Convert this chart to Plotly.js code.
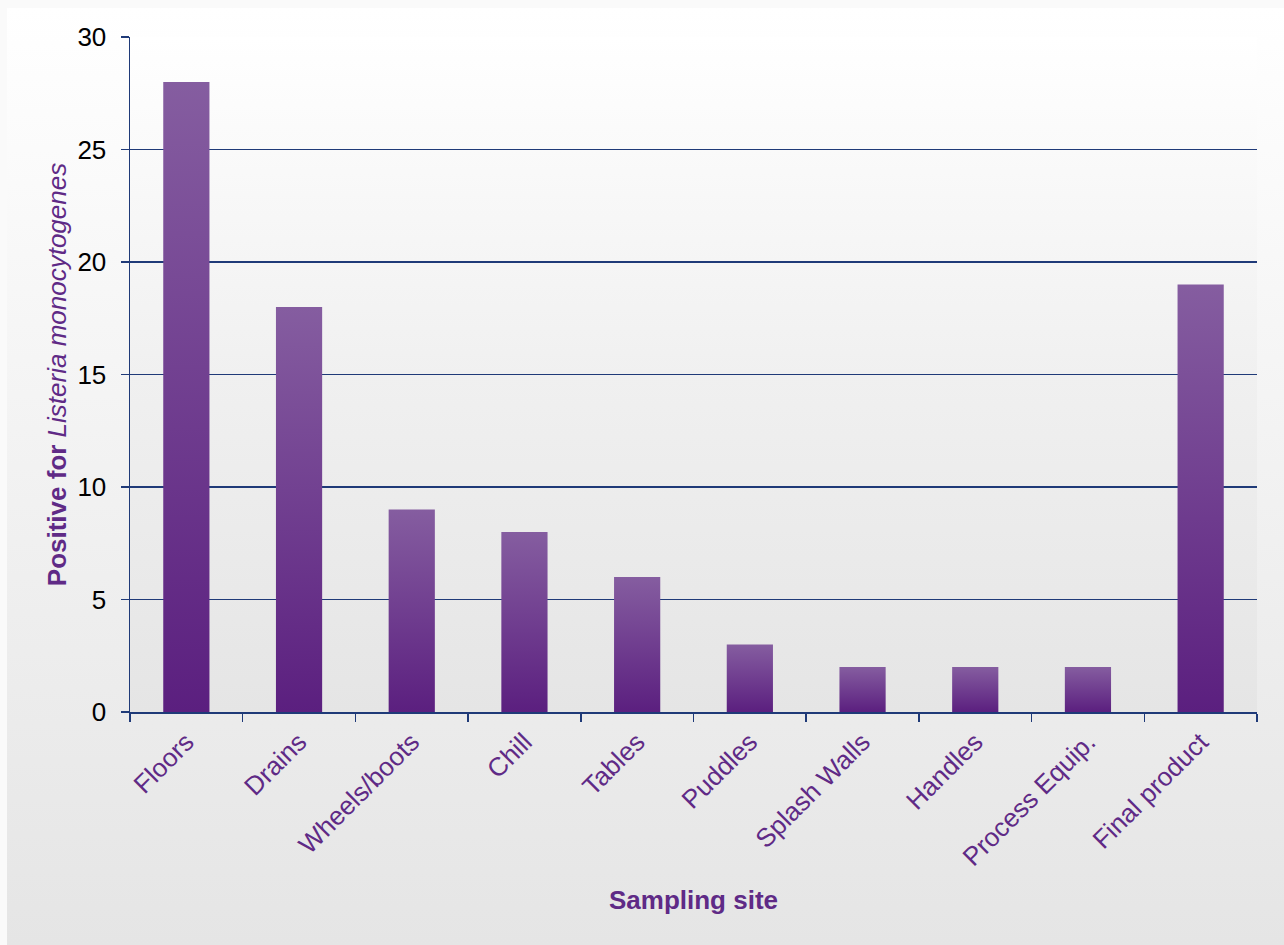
<!DOCTYPE html>
<html>
<head>
<meta charset="utf-8">
<script src="https://cdn.plot.ly/plotly-3.0.1.min.js"></script>
<style>
  html, body { margin:0; padding:0; background:#fafafa; }
  #wrap { position:relative; width:1284px; height:945px; overflow:hidden; background:#fafafa; }
  #bgOuter { position:absolute; left:7px; top:8px; width:1277px; height:937px;
             background:linear-gradient(to bottom, #ffffff 0%, #f3f3f3 45%, #e5e5e5 100%); }
  #bgPlot { position:absolute; left:130px; top:37px; width:1127px; height:675px;
            background:linear-gradient(to bottom, #ffffff 0%, #f0f0f0 50%, #e5e5e5 100%); }
  #chart { position:absolute; left:0; top:0; width:1284px; height:945px; }
</style>
</head>
<body>
<div id="wrap">
  <div id="bgOuter"></div>
  <div id="bgPlot"></div>
  <div id="chart"></div>
</div>
<script>
const categories = ["Floors", "Drains", "Wheels/boots", "Chill", "Tables", "Puddles",
                    "Splash Walls", "Handles", "Process Equip.", "Final product"];
const positives = [28, 18, 9, 8, 6, 3, 2, 2, 2, 19];
const yTicks = [0, 5, 10, 15, 20, 25, 30];

const navy = "#1f3a78";
const purple = "#5f2a86";
const fam = "Liberation Sans, Arial, sans-serif";

const trace = {
  type: "bar",
  x: categories,
  y: positives,
  marker: { color: "#6e3d92", line: { width: 0 } },
  hoverinfo: "x+y"
};

const layout = {
  width: 1284, height: 945,
  margin: { l: 130, r: 27, t: 37, b: 233 },
  paper_bgcolor: "rgba(0,0,0,0)",
  plot_bgcolor: "rgba(0,0,0,0)",
  bargap: 0.59,
  showlegend: false,
  font: { family: fam },
  xaxis: {
    type: "category",
    tickson: "boundaries",
    ticks: "outside", ticklen: 8, tickcolor: navy, tickwidth: 1.5,
    showline: true, linecolor: navy, linewidth: 1.5,
    showgrid: false,
    tickangle: -45,
    ticklabelstandoff: 3,
    automargin: false,
    tickfont: { size: 26, color: purple, family: fam },
    title: { text: "<b>Sampling site</b>", font: { size: 26, color: purple, family: fam }, standoff: 20 }
  },
  yaxis: {
    range: [0, 30],
    tickvals: yTicks,
    ticktext: yTicks.map(String),
    ticks: "outside", ticklen: 8, tickcolor: navy, tickwidth: 1.5,
    showline: true, linecolor: navy, linewidth: 1.5,
    showgrid: true, gridcolor: navy, gridwidth: 1.7,
    zeroline: false,
    automargin: false,
    tickfont: { size: 26, color: "#000000", family: fam },
    ticklabelstandoff: 9,
    title: { text: "<b>Positive for </b><i>Listeria monocytogenes</i>", font: { size: 26, color: purple, family: fam }, standoff: 3 }
  }
};

Plotly.newPlot("chart", [trace], layout, { displayModeBar: false, staticPlot: true }).then(function (gd) {
  const svg = gd.querySelector("svg.main-svg");
  const ns = "http://www.w3.org/2000/svg";
  let defs = svg.querySelector("defs");
  if (!defs) { defs = document.createElementNS(ns, "defs"); svg.insertBefore(defs, svg.firstChild); }
  const grad = document.createElementNS(ns, "linearGradient");
  grad.setAttribute("id", "barGrad");
  grad.setAttribute("x1", "0"); grad.setAttribute("y1", "1");
  grad.setAttribute("x2", "0"); grad.setAttribute("y2", "0");
  [["0", "#5b1f7f"], ["1", "#855da0"]].forEach(function (s) {
    const st = document.createElementNS(ns, "stop");
    st.setAttribute("offset", s[0]);
    st.setAttribute("stop-color", s[1]);
    grad.appendChild(st);
  });
  defs.appendChild(grad);
  gd.querySelectorAll(".barlayer .point path").forEach(function (p) {
    p.style.fill = "url(#barGrad)";
  });
});
</script>
</body>
</html>
